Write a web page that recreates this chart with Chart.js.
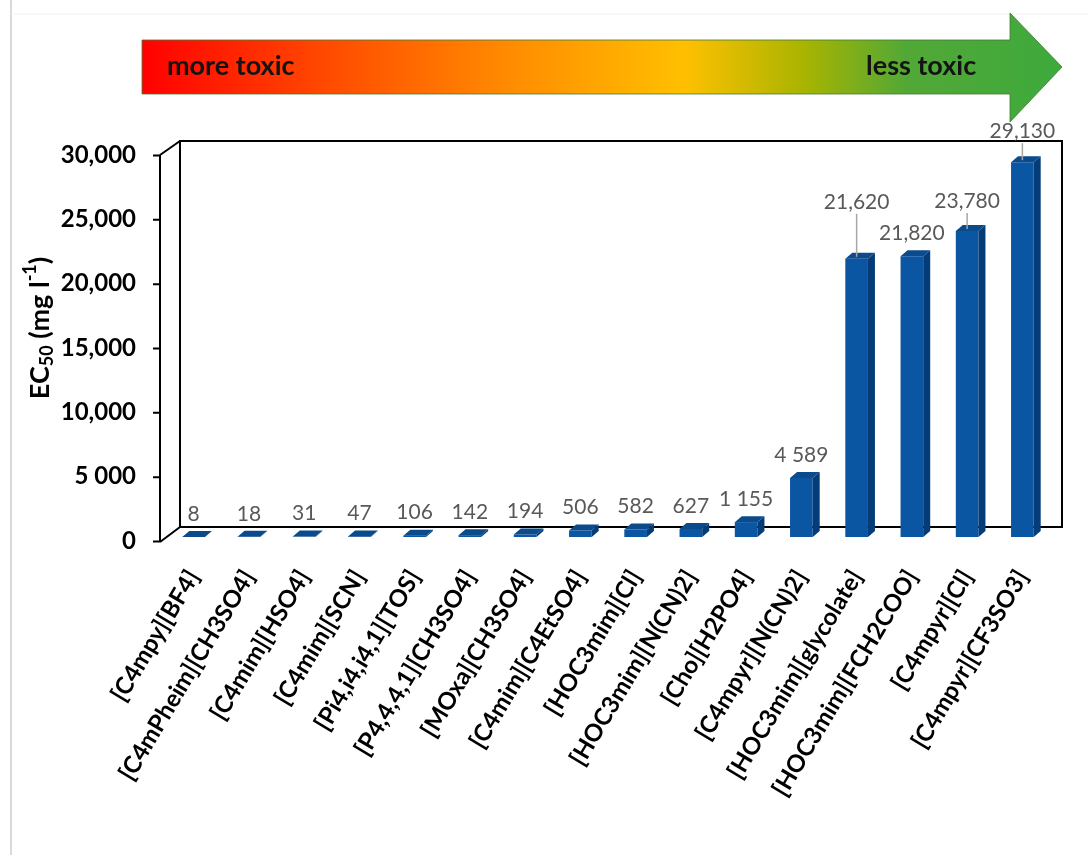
<!DOCTYPE html>
<html lang="en">
<head>
<meta charset="UTF-8">
<title>EC50 of ionic liquids</title>
<style>
  html, body { margin: 0; padding: 0; background: #fff; }
  #wrap { width: 1088px; height: 855px; position: relative; }
</style>
</head>
<body>
<div id="wrap"><canvas id="chart"></canvas></div>

<script src="https://cdn.jsdelivr.net/npm/chart.js"></script>
<script>
// data
var categories = [
  '[C4mpy][BF4]', '[C4mPheim][CH3SO4]', '[C4mim][HSO4]', '[C4mim][SCN]',
  '[Pi4,i4,i4,1][TOS]', '[P4,4,4,1][CH3SO4]', '[MOxa][CH3SO4]', '[C4mim][C4EtSO4]',
  '[HOC3mim][Cl]', '[HOC3mim][N(CN)2]', '[Cho][H2PO4]', '[C4mpyr][N(CN)2]',
  '[HOC3mim][glycolate]', '[HOC3mim][FCH2COO]', '[C4mpyr][Cl]', '[C4mpyr][CF3SO3]'
];
var ec50Values = [8, 18, 31, 47, 106, 142, 194, 506, 582, 627, 1155, 4589, 21620, 21820, 23780, 29130];
var valueLabels = ['8', '18', '31', '47', '106', '142', '194', '506', '582', '627',
  '1 155', '4 589', '21,620', '21,820', '23,780', '29,130'];
var yTickValues = [0, 5000, 10000, 15000, 20000, 25000, 30000];
var yTickLabels = ['0', '5 000', '10,000', '15,000', '20,000', '25,000', '30,000'];

// extra lift of some value labels (they sit higher with a leader line)
var labelLift = [0, 0, 0, 0, 0, 0, 0, 0, 0, 0, 0, 0, 34, 0, 7, 8];

var FRONT = '#0a56a3';
var SIDE = '#043c78';
var TOP = '#0b4a8b';
var DX = 7, DY = 6;

function drawArrow(ctx) {
  var x0 = 142, x1 = 1010, tip = 1062;
  var g = ctx.createLinearGradient(x0, 0, tip, 0);
  g.addColorStop(0, '#ff0000');
  g.addColorStop(0.2, '#ff4a00');
  g.addColorStop(0.4, '#ff8c00');
  g.addColorStop(0.59, '#ffc000');
  g.addColorStop(0.72, '#a8b400');
  g.addColorStop(0.83, '#52a836');
  g.addColorStop(1, '#3daa3d');
  ctx.save();
  ctx.beginPath();
  ctx.moveTo(x0, 40);
  ctx.lineTo(x1, 40);
  ctx.lineTo(x1, 13);
  ctx.lineTo(tip, 67);
  ctx.lineTo(x1, 122);
  ctx.lineTo(x1, 94);
  ctx.lineTo(x0, 94);
  ctx.closePath();
  ctx.fillStyle = g;
  ctx.fill();
  ctx.lineWidth = 1;
  ctx.strokeStyle = 'rgba(70,120,50,0.8)';
  ctx.stroke();

  ctx.fillStyle = '#141414';
  ctx.font = 'bold 27px Lato';
  ctx.textBaseline = 'middle';
  ctx.textAlign = 'left';
  ctx.fillText('more toxic', 167, 66);
  ctx.fillText('less toxic', 866, 66);
  ctx.restore();
}

function drawYTitle(ctx) {
  var parts = [
    { t: 'EC', s: 27, dy: 0 },
    { t: '50', s: 18, dy: 7 },
    { t: ' (mg l', s: 27, dy: 0 },
    { t: '-1', s: 18, dy: -10 },
    { t: ')', s: 27, dy: 0 }
  ];
  ctx.save();
  ctx.translate(40, 328);
  ctx.rotate(-Math.PI / 2);
  ctx.fillStyle = '#000';
  ctx.textBaseline = 'middle';
  ctx.textAlign = 'left';
  var total = 0;
  parts.forEach(function (p) {
    ctx.font = 'bold ' + p.s + 'px Lato';
    p.w = ctx.measureText(p.t).width;
    total += p.w;
  });
  var x = -total / 2;
  parts.forEach(function (p) {
    ctx.font = 'bold ' + p.s + 'px Lato';
    ctx.fillText(p.t, x, p.dy);
    x += p.w;
  });
  ctx.restore();
}

var decorPlugin = {
  id: 'decor',
  beforeDraw: function (chart) {
    var ctx = chart.ctx;
    ctx.save();
    ctx.fillStyle = '#fff';
    ctx.fillRect(0, 0, chart.width, chart.height);
    ctx.strokeStyle = '#d9d9d9';
    ctx.lineWidth = 2;
    ctx.beginPath();
    ctx.moveTo(11, 0);
    ctx.lineTo(11, chart.height);
    ctx.stroke();
    ctx.strokeStyle = '#f2f2f2';
    ctx.lineWidth = 1;
    ctx.beginPath();
    ctx.moveTo(11, 14);
    ctx.lineTo(chart.width, 14);
    ctx.stroke();
    ctx.restore();
    drawArrow(ctx);
    drawYTitle(ctx);
  },
  beforeDatasetsDraw: function (chart) {
    var ctx = chart.ctx, ca = chart.chartArea, ys = chart.scales.y;
    var yTop = ys.getPixelForValue(30000), yZero = ys.getPixelForValue(0);
    var bl = ca.left + 14, br = ca.right + 12;
    var fx = ca.left - 6;
    ctx.save();
    ctx.strokeStyle = '#000';
    ctx.lineWidth = 2;
    // back wall
    ctx.strokeRect(bl, yTop - 10, br - bl, yZero - yTop);
    // front axis and its links to the wall
    ctx.beginPath();
    ctx.moveTo(fx, yTop + 4);
    ctx.lineTo(fx, yZero + 5);
    ctx.moveTo(fx, yTop + 4);
    ctx.lineTo(bl, yTop - 10);
    ctx.moveTo(fx, yZero + 5);
    ctx.lineTo(bl, yZero - 10);
    yTickValues.forEach(function (v) {
      var py = ys.getPixelForValue(v) + 4.5;
      ctx.moveTo(fx - 7, py);
      ctx.lineTo(fx, py);
    });
    ctx.stroke();
    ctx.restore();
  },
  afterDatasetsDraw: function (chart) {
    var ctx = chart.ctx;
    var bars = chart.getDatasetMeta(0).data;
    ctx.save();
    bars.forEach(function (bar) {
      var p = bar.getProps(['x', 'y', 'base', 'width'], true);
      var l = p.x - p.width / 2, r = p.x + p.width / 2;
      ctx.fillStyle = SIDE;
      ctx.beginPath();
      ctx.moveTo(r, p.y);
      ctx.lineTo(r + DX, p.y - DY);
      ctx.lineTo(r + DX, p.base - DY);
      ctx.lineTo(r, p.base);
      ctx.closePath();
      ctx.fill();
      ctx.fillStyle = TOP;
      ctx.beginPath();
      ctx.moveTo(l, p.y);
      ctx.lineTo(l + DX, p.y - DY);
      ctx.lineTo(r + DX, p.y - DY);
      ctx.lineTo(r, p.y);
      ctx.closePath();
      ctx.fill();
    });

    ctx.font = '21px Lato';
    ctx.textAlign = 'center';
    ctx.textBaseline = 'middle';
    bars.forEach(function (bar, i) {
      var p = bar.getProps(['x', 'y'], true);
      var ly = p.y - 23 - labelLift[i];
      if (labelLift[i] > 0) {
        ctx.strokeStyle = '#a6a6a6';
        ctx.lineWidth = 1.5;
        ctx.beginPath();
        ctx.moveTo(p.x, ly + 12);
        ctx.lineTo(p.x, p.y - 2);
        ctx.stroke();
      }
      ctx.fillStyle = '#595959';
      ctx.fillText(valueLabels[i], p.x, ly);
    });
    ctx.restore();
  }
};

var ctx = document.getElementById('chart').getContext('2d');
new Chart(ctx, {
  type: 'bar',
  data: {
    labels: categories,
    datasets: [{
      label: 'EC50',
      data: ec50Values,
      backgroundColor: FRONT,
      borderWidth: 0,
      barPercentage: 0.41,
      categoryPercentage: 1
    }]
  },
  options: {
    responsive: true,
    maintainAspectRatio: false,
    animation: false,
    layout: { padding: { top: 151, right: 38, left: 0, bottom: 0 } },
    plugins: {
      legend: { display: false },
      tooltip: { enabled: false }
    },
    scales: {
      x: {
        grid: { display: false, drawTicks: false },
        border: { display: false },
        ticks: {
          autoSkip: false,
          minRotation: 59,
          maxRotation: 59,
          padding: 28,
          color: '#000',
          font: { family: 'Lato', weight: 'bold', size: 24 }
        },
        afterFit: function (scale) { scale.height = 318; }
      },
      y: {
        min: 0,
        max: 30000,
        grid: { display: false, drawTicks: false },
        border: { display: false },
        afterBuildTicks: function (scale) {
          scale.ticks = yTickValues.map(function (v) { return { value: v }; });
        },
        ticks: {
          padding: 30,
          labelOffset: 4,
          color: '#000',
          font: { family: 'Lato', weight: 'bold', size: 24 },
          callback: function (value, index) { return yTickLabels[index]; }
        },
        afterFit: function (scale) { scale.width = 166; }
      }
    }
  },
  plugins: [decorPlugin]
});
</script>
</body>
</html>
